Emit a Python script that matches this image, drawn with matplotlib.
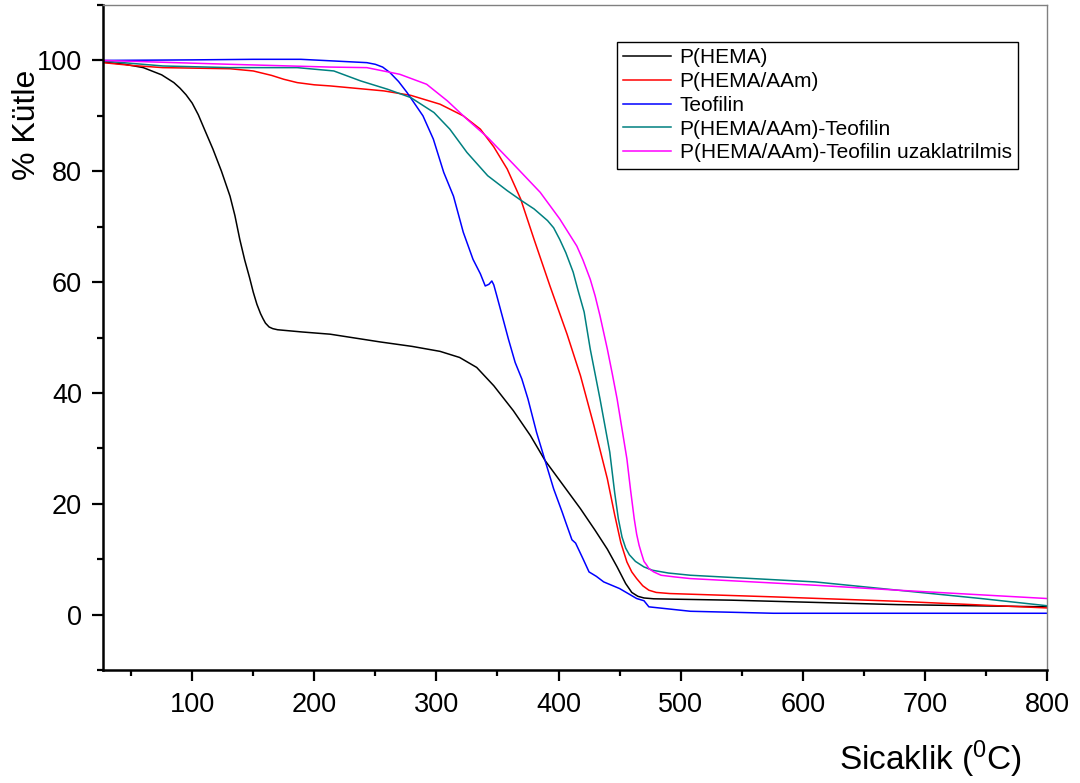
import numpy as np
import matplotlib
matplotlib.use('Agg')
import matplotlib.pyplot as plt
from matplotlib.ticker import MultipleLocator

plt.rcParams['font.family'] = ['Liberation Sans', 'DejaVu Sans']
plt.rcParams['mathtext.fontset'] = 'custom'
plt.rcParams['mathtext.rm'] = 'Liberation Sans'
plt.rcParams['mathtext.default'] = 'regular'

# TGA curves: temperature (C) and remaining mass (%)
hema_T = [27, 45, 60, 75, 85, 90, 95, 100, 105, 110, 117, 124, 131, 135, 139, 143, 147, 150, 153,
          156, 158, 160, 163, 166, 170, 190, 213, 254, 280, 303, 319, 333, 347, 363, 377, 389,
          404, 418, 430, 440, 448, 455, 460, 465, 470, 478, 542, 610, 678, 800]
hema_w = [99.7, 99.3, 98.7, 97.4, 96.0, 95.0, 93.8, 92.3, 90.2, 87.6, 84.0, 80.0, 75.5, 72.0,
          67.7, 64.0, 60.8, 58.2, 56.0, 54.3, 53.4, 52.6, 51.9, 51.6, 51.4, 51.0, 50.6, 49.2,
          48.4, 47.5, 46.4, 44.6, 41.3, 36.8, 32.3, 27.8, 23.3, 19.1, 15.2, 11.8, 8.6, 5.6, 4.0,
          3.3, 3.0, 2.85, 2.6, 2.2, 1.8, 1.4]

aam_T = [27, 50, 76, 131, 150, 165, 175, 186, 200, 213, 257, 279, 303, 322, 336, 347, 358, 369,
         380, 393, 407, 418, 429, 440, 446, 451, 456, 460, 464, 469, 474, 480, 491, 576, 678, 800]
aam_w = [99.6, 99.1, 98.7, 98.5, 98.1, 97.3, 96.6, 96.0, 95.6, 95.4, 94.5, 93.7, 92.1, 90.0, 87.6,
         84.4, 80.4, 75.0, 67.7, 59.3, 50.6, 43.1, 34.1, 24.5, 18.0, 13.0, 9.5, 7.7, 6.5, 5.2,
         4.4, 4.0, 3.8, 3.2, 2.4, 1.2]

teo_T = [27, 100, 150, 189, 243, 250, 256, 262, 269, 276, 289, 297.5, 306, 314, 322, 330, 336,
         340, 343, 345.4, 347, 349.5, 355, 359, 364.5, 370, 375, 382, 389, 396, 403, 406, 411,
         414, 420, 425, 431, 437, 450, 464, 470, 474, 508, 576, 800]
teo_w = [100.0, 100.1, 100.2, 100.2, 99.6, 99.3, 98.8, 97.8, 96.2, 94.2, 90.0, 85.8, 79.8, 75.5,
         69.0, 64.1, 61.5, 59.3, 59.6, 60.2, 59.5, 57.5, 53.0, 49.7, 45.5, 42.5, 38.9, 32.9, 27.8,
         22.7, 18.5, 16.6, 13.5, 12.9, 10.1, 7.7, 6.9, 5.9, 4.7, 2.9, 2.5, 1.4, 0.6, 0.24, 0.24]

teo_yuk_T = [27, 76, 131, 186, 216, 238, 260, 279, 298, 311, 325, 342, 358, 369, 380, 391, 396,
             401, 406, 412, 416, 421, 426, 434, 442, 446, 449, 452, 455, 458, 463, 470, 477, 490,
             508, 610, 678, 746, 800]
teo_yuk_w = [99.9, 99.0, 98.7, 98.7, 98.1, 96.3, 94.8, 93.3, 90.6, 87.6, 83.4, 79.2, 76.5, 74.8,
             73.2, 71.1, 69.8, 67.7, 65.3, 61.8, 58.5, 54.6, 47.9, 38.9, 29.3, 22.0, 17.3, 14.0,
             12.0, 10.8, 9.6, 8.6, 8.0, 7.5, 7.1, 5.9, 4.4, 2.9, 1.6]

teo_uzak_T = [27, 131, 213, 243, 270, 292, 309, 325, 342, 363, 385, 401, 415, 420, 426, 430, 434,
              440, 444, 448, 452, 456, 459, 462, 464, 466, 468, 470, 472, 474, 478, 484, 495, 508,
              610, 678, 800]
teo_uzak_w = [100.0, 99.3, 98.8, 98.7, 97.5, 95.7, 92.7, 89.4, 86.1, 81.3, 76.2, 71.4, 66.5, 64.0,
              60.5, 57.5, 53.9, 47.9, 43.5, 38.9, 33.5, 28.1, 22.5, 17.3, 14.5, 12.5, 11.0, 9.6,
              9.0, 8.3, 7.7, 7.1, 6.8, 6.5, 5.3, 4.4, 2.9]

series = [
    (hema_T, hema_w, 'black', 'P(HEMA)'),
    (aam_T, aam_w, 'red', 'P(HEMA/AAm)'),
    (teo_T, teo_w, '#0000ff', 'Teofilin'),
    (teo_yuk_T, teo_yuk_w, '#008080', 'P(HEMA/AAm)-Teofilin'),
    (teo_uzak_T, teo_uzak_w, '#ff00ff', 'P(HEMA/AAm)-Teofilin uzaklatrilmis'),
]

fig = plt.figure(figsize=(10.8, 7.83), dpi=100)
ax = fig.add_axes([0.0954, 0.1443, 0.874, 0.8493])

for T, w, c, lab in series:
    ax.plot(T, w, color=c, lw=1.1, label=lab)

ax.set_xlim(27, 800)
ax.set_ylim(-10, 110)
ax.xaxis.set_minor_locator(MultipleLocator(50))
ax.yaxis.set_minor_locator(MultipleLocator(10))
ax.set_yticks([0, 20, 40, 60, 80, 100])
ax.set_xticks([100, 200, 300, 400, 500, 600, 700, 800])

ax.tick_params(which='major', direction='out', length=8, width=1.6, labelsize=19.5)
ax.tick_params(which='minor', direction='out', length=4.5, width=1.6)
ax.tick_params(axis='x', which='major', pad=8)
ax.tick_params(axis='y', which='major', pad=7)

for s in ['left', 'bottom']:
    ax.spines[s].set_linewidth(1.8)
    ax.spines[s].set_color('black')
for s in ['top', 'right']:
    ax.spines[s].set_linewidth(1.0)
    ax.spines[s].set_color('#808080')

leg = ax.legend(loc='upper right', bbox_to_anchor=(1018 / 1080, 1 - 42 / 783),
                bbox_transform=fig.transFigure, fontsize=15, frameon=True, fancybox=False,
                framealpha=1, edgecolor='black', handlelength=2.3, handletextpad=0.4,
                labelspacing=0.23, borderpad=0.3, borderaxespad=0)
leg.get_frame().set_linewidth(1.0)

fig.text(0.025, 0.840, '% Kütle', rotation=90, ha='center', va='center', fontsize=23)
fig.text(0.946, 0.017, 'Sicaklik ($^{0}$C)', ha='right', va='baseline', fontsize=24)

plt.savefig('out.png', dpi=100)
